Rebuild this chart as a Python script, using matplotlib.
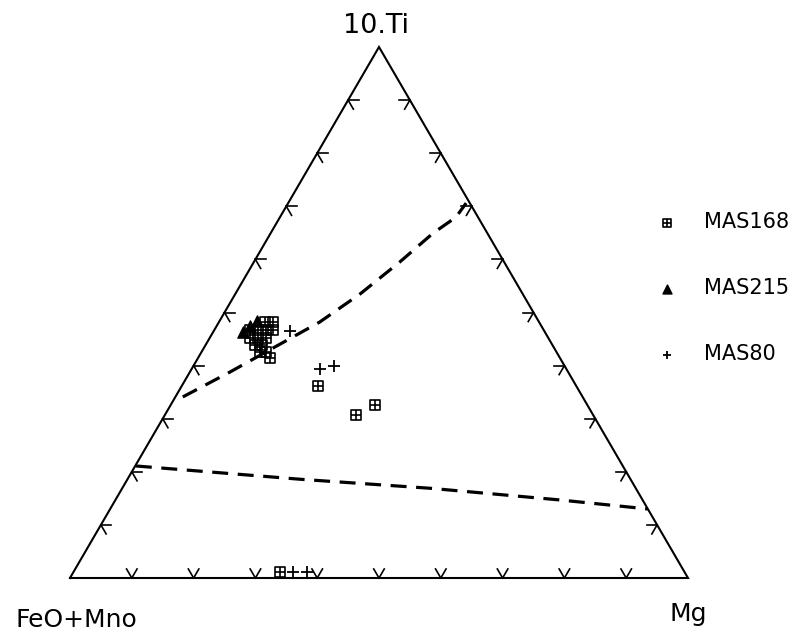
import numpy as np
import matplotlib.pyplot as plt
from matplotlib.path import Path

# ternary compositions in percent: (FeO+MnO, Mg, 10.Ti)
mas168_fe = [44.4, 43.1, 47.5, 46.2, 44.9, 43.8, 48.3, 47.0, 45.7, 48.1, 47.0, 48.0, 47.0, 46.9, 41.8, 38.4, 34.4, 65.4]
mas168_mg = [7.5, 8.8, 5.8, 7.1, 8.4, 9.5, 6.5, 7.8, 9.1, 8.0, 9.1, 9.5, 10.4, 11.6, 22.1, 30.9, 33.1, 33.4]
mas168_ti = [48.2, 48.2, 46.7, 46.7, 46.7, 46.7, 45.2, 45.2, 45.2, 43.9, 43.9, 42.6, 42.6, 41.4, 36.2, 30.7, 32.6, 1.1]

mas215_fe = [48.8, 47.1, 45.5]
mas215_mg = [4.8, 5.4, 6.1]
mas215_ti = [46.3, 47.5, 48.4]

mas80_fe = [41.1, 39.9, 37.3, 63.4, 61.1]
mas80_mg = [12.3, 20.8, 22.8, 35.5, 37.8]
mas80_ti = [46.5, 39.4, 39.9, 1.1, 1.1]

# dashed field boundaries
upper_fe = [64.7, 54.7, 43.6, 35.5, 26.3, 16.9, 8.8, 3.6, 0.6]
upper_mg = [1.2, 6.5, 12.2, 16.3, 20.2, 23.6, 26.3, 28.5, 28.8]
upper_ti = [34.1, 38.8, 44.3, 48.2, 53.5, 59.5, 65.0, 68.0, 70.6]

lower_fe = [78.8, 53.5, 33.3, 13.4, 0.0]
lower_mg = [0.1, 27.9, 49.8, 71.9, 87.0]
lower_ti = [21.1, 18.6, 16.9, 14.7, 13.0]

tick_steps = [10, 20, 30, 40, 50, 60, 70, 80, 90]


def tern(fe, mg, ti):
    fe, mg, ti = (np.asarray(v, dtype=float) for v in (fe, mg, ti))
    tot = fe + mg + ti
    mg, ti = mg / tot, ti / tot
    return mg + ti / 2, ti


fig = plt.figure(figsize=(8.03, 6.32), dpi=100)
ax = fig.add_axes([0, 0, 1, 1])
ax.set_xlim(-70 / 618, 733 / 618)
ax.set_ylim(-54 / 531, 578 / 531)
ax.axis('off')

# triangle frame
corners = np.array([[100, 0, 0], [0, 100, 0], [0, 0, 100], [100, 0, 0]])
fx, fy = tern(corners[:, 0], corners[:, 1], corners[:, 2])
ax.plot(fx, fy, color='black', lw=1.5, solid_joinstyle='miter')

# chevron ticks along each edge
d = 1.7
verts = np.eye(3) * 100
for i, j, k in [(0, 1, 2), (1, 2, 0), (2, 0, 1)]:
    for s in tick_steps:
        p = verts[i] * (1 - s / 100) + verts[j] * s / 100
        for src in (verts[i], verts[j]):
            q = p + (verts[k] - src) / 100 * d
            x, y = tern([p[0], q[0]], [p[1], q[1]], [p[2], q[2]])
            ax.plot(x, y, color='black', lw=1.2)

ux, uy = tern(upper_fe, upper_mg, upper_ti)
ax.plot(ux, uy, color='black', lw=2.3, linestyle=(0, (5, 3)))
lx, ly = tern(lower_fe, lower_mg, lower_ti)
ax.plot(lx, ly, color='black', lw=2.3, linestyle=(0, (5, 3)))

boxplus = Path([(-1, -1), (1, -1), (1, 1), (-1, 1), (-1, -1), (0, -1), (0, 1), (-1, 0), (1, 0)],
               [Path.MOVETO, Path.LINETO, Path.LINETO, Path.LINETO, Path.CLOSEPOLY,
                Path.MOVETO, Path.LINETO, Path.MOVETO, Path.LINETO])

x, y = tern(mas168_fe, mas168_mg, mas168_ti)
ax.scatter(x, y, marker=boxplus, s=55, facecolors='none', edgecolors='black', linewidths=1.2, label='MAS168')
x, y = tern(mas215_fe, mas215_mg, mas215_ti)
ax.scatter(x, y, marker='^', s=65, color='black', label='MAS215')
x, y = tern(mas80_fe, mas80_mg, mas80_ti)
ax.scatter(x, y, marker='+', s=65, color='black', linewidths=1.3, label='MAS80')

fig.text(376 / 803, 1 - 33 / 632, '10.Ti', fontsize=19.5, ha='center', va='baseline')
fig.text(76 / 803, 1 - 627 / 632, 'FeO+Mno', fontsize=18, ha='center', va='baseline')
fig.text(688 / 803, 1 - 621 / 632, 'Mg', fontsize=18, ha='center', va='baseline')

ax.legend(loc='upper left', bbox_to_anchor=(636 / 803, 1 - 202 / 632), frameon=False,
          fontsize=15, labelspacing=2.2, handletextpad=0.75, markerscale=0.8, borderpad=0)

fig.savefig('out.png', dpi=100)
